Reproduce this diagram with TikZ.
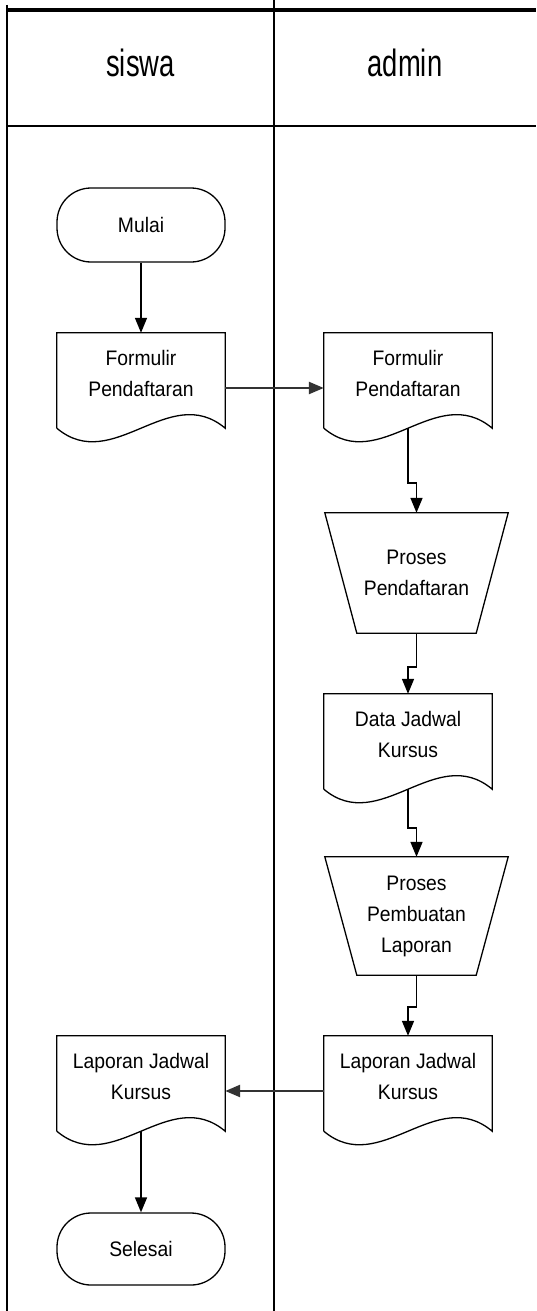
\documentclass[tikz,border=0pt]{standalone}
\usepackage{fontspec}
\setmainfont[FakeStretch=0.92]{Liberation Sans}
\newfontfamily\lanefont[FakeStretch=0.72]{Liberation Sans}
\usetikzlibrary{arrows.meta}

\begin{document}
\begin{tikzpicture}[
        x=1pt, y=-1pt,
        every node/.style={font=\fontsize{21}{31}\selectfont, align=center},
        lanehead/.style={font=\lanefont\fontsize{38}{44}\selectfont, anchor=base},
        lane/.style={line width=2pt},
        outline/.style={line width=1.3pt},
        terminal/.style={rectangle, rounded corners=34pt, draw, outline, minimum width=168pt, minimum height=74pt},
        docnode/.style={rectangle, minimum width=168pt, minimum height=80pt},
        procnode/.style={rectangle, minimum width=183pt, minimum height=120pt},
        arrow/.style={-{Triangle[length=15pt,width=12pt]}, line width=1.6pt},
        crossarrow/.style={arrow, line width=2.4pt, draw=black!80}
    ]
    \useasboundingbox (0,0) rectangle (536,1311);

    % swimlanes
    \draw[lane, line width=4pt] (7,10) -- (536,10);
    \draw[lane] (7,126) -- (536,126);
    \draw[lane, line width=2.5pt] (7,5) -- (7,1311);
    \draw[lane] (274,0) -- (274,1311);
    \node[lanehead] (siswa) at (140.5,77) {siswa};
    \node[lanehead] (admin) at (405,77) {admin};

    % siswa
    \node[terminal] (mulai) at (141,225) {Mulai};
    \node[docnode] (fs) at (141,373) {Formulir\\Pendaftaran};
    \node[docnode] (ll) at (141,1076) {Laporan Jadwal\\Kursus};
    \node[terminal, minimum height=72pt] (selesai) at (141,1249) {Selesai};

    % admin
    \node[docnode] (fa) at (408,373) {Formulir\\Pendaftaran};
    \node[procnode] (pp) at (416.5,573) {Proses\\Pendaftaran};
    \node[docnode] (dj) at (408,734) {Data Jadwal\\Kursus};
    \node[procnode, minimum height=118pt] (pl) at (416.5,916) {Proses\\Pembuatan\\Laporan};
    \node[docnode] (lr) at (408,1076) {Laporan Jadwal\\Kursus};

    \foreach \n in {fs,fa,dj,lr,ll} {
        \draw[outline] ([yshift=-15pt]\n.south west) -- (\n.north west) -- (\n.north east) -- ([yshift=-15pt]\n.south east)
            .. controls +(-56,-47) and +(56,47) .. ([yshift=-15pt]\n.south west);
    }
    \foreach \n in {pp,pl} {
        \draw[outline] (\n.north west) -- (\n.north east) -- ([xshift=-32pt]\n.south east) -- ([xshift=32pt]\n.south west) -- cycle;
    }

    \draw[arrow] (mulai) -- (fs);
    \draw[crossarrow] ([yshift=-15pt]fs.east) -- ([yshift=-15pt]fa.west);
    \draw[arrow] ([yshift=-15pt]fa.south) -- ++(0,55) -| (pp.north);
    \draw[arrow] (pp.south) -- ++(0,34) -| (dj.north);
    \draw[arrow] ([yshift=-15pt]dj.south) -- ++(0,39) -| (pl.north);
    \draw[arrow] (pl.south) -- ++(0,32) -| (lr.north);
    \draw[crossarrow] ([yshift=-15pt]lr.west) -- ([yshift=-15pt]ll.east);
    \draw[arrow] ([yshift=-15pt]ll.south) -- (selesai);
\end{tikzpicture}
\end{document}
